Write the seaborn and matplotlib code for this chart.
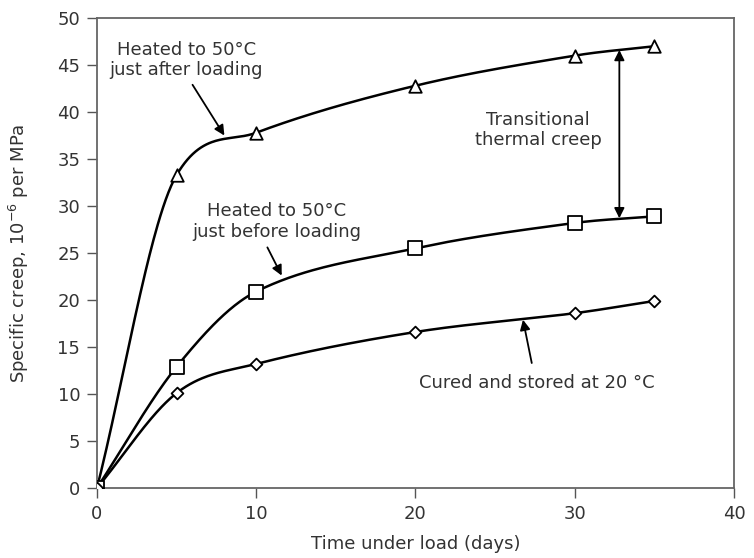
import numpy as np
import pandas as pd
import matplotlib
matplotlib.use("Agg")
import matplotlib.pyplot as plt
import seaborn as sns

# Specific creep (10^-6 per MPa) against time under load (days)
days = [0, 5, 10, 20, 30, 35]
after_loading = [0, 33.3, 37.8, 42.8, 46.0, 47.0]
before_loading = [0, 12.9, 20.9, 25.5, 28.2, 28.9]
stored_20c = [0, 10.1, 13.2, 16.6, 18.6, 19.9]

series_names = ["after", "before", "stored"]
series_values = [after_loading, before_loading, stored_20c]
series_markers = ["^", "s", "D"]
series_sizes = [9, 10, 6]

x_ticks = [0, 10, 20, 30, 40]
y_ticks = [0, 5, 10, 15, 20, 25, 30, 35, 40, 45, 50]

sns.set_theme(style="white")
plt.rcParams["font.family"] = ["DejaVu Sans"]
text_color = "#333333"


def smooth_path(x, y, n=60):
    """Cubic Hermite path through the points (centred-difference tangents)."""
    x = np.asarray(x, float)
    y = np.asarray(y, float)
    h = np.diff(x)
    d = np.diff(y) / h
    m = np.empty_like(y)
    m[1:-1] = (y[2:] - y[:-2]) / (x[2:] - x[:-2])
    m[0], m[-1] = d[0], d[-1]
    # keep tangents from overshooting on the flatter side
    for k in range(1, len(y) - 1):
        m[k] = min(m[k], 3.2 * d[k - 1], 3.2 * d[k])
    xs, ys = [], []
    for k in range(len(h)):
        t = np.linspace(0, 1, n)
        h00 = 2 * t**3 - 3 * t**2 + 1
        h10 = t**3 - 2 * t**2 + t
        h01 = -2 * t**3 + 3 * t**2
        h11 = t**3 - t**2
        xs.append(x[k] + t * h[k])
        ys.append(h00 * y[k] + h10 * h[k] * m[k] + h01 * y[k + 1] + h11 * h[k] * m[k + 1])
    return np.concatenate(xs), np.concatenate(ys)


fig = plt.figure(figsize=(7.54, 5.58), dpi=100)
ax = fig.add_axes([0.1286, 0.1254, 0.8449, 0.8423])

frames = []
for name, vals in zip(series_names, series_values):
    frames.append(pd.DataFrame({"days": days, "creep": vals, "series": name}))
df = pd.concat(frames, ignore_index=True)

for name, mk, ms in zip(series_names, series_markers, series_sizes):
    sub = df[df["series"] == name]
    sx, sy = smooth_path(sub["days"], sub["creep"])
    ax.plot(sx, sy, color="black", lw=1.8, zorder=2)
    sns.scatterplot(data=sub, x="days", y="creep", marker=mk, s=ms**2,
                    facecolor="white", edgecolor="black", linewidth=1.3,
                    ax=ax, zorder=3, legend=False)

ax.set_xlim(0, 40)
ax.set_ylim(0, 50)
ax.set_xticks(x_ticks)
ax.set_yticks(y_ticks)
ax.tick_params(axis="both", direction="out", length=7, width=1, color="#555555",
               labelsize=13, labelcolor=text_color, pad=5,
               bottom=True, left=True)
for sp in ax.spines.values():
    sp.set_color("#666666")
    sp.set_linewidth(1.3)

ax.set_xlabel("Time under load (days)", fontsize=13, color=text_color, labelpad=9)
ax.set_ylabel("Specific creep, 10$^{-6}$ per MPa", fontsize=13, color=text_color, labelpad=19)

fs = 13
head = dict(arrowstyle="-|>", color="black", lw=1.3, mutation_scale=15,
            shrinkA=0, shrinkB=0)

ax.text(5.6, 45.5, "Heated to 50°C\njust after loading", ha="center", va="center",
        fontsize=fs, color=text_color, linespacing=1.15)
ax.annotate("", xy=(8.0, 37.5), xytext=(6.0, 42.9), arrowprops=head)

ax.text(11.3, 28.35, "Heated to 50°C\njust before loading", ha="center", va="center",
        fontsize=fs, color=text_color, linespacing=1.15)
ax.annotate("", xy=(11.6, 22.6), xytext=(10.7, 25.6), arrowprops=head)

ax.text(27.6, 11.2, "Cured and stored at 20 °C", ha="center", va="center",
        fontsize=fs, color=text_color)
ax.annotate("", xy=(26.75, 17.9), xytext=(27.3, 13.3), arrowprops=head)

ax.text(27.7, 38.1, "Transitional\nthermal creep", ha="center", va="center",
        fontsize=fs, color=text_color, linespacing=1.15)
ax.annotate("", xy=(32.8, 46.6), xytext=(32.8, 28.7),
            arrowprops=dict(head, arrowstyle="<|-|>"))

fig.savefig("out.png", dpi=100, facecolor="white")
